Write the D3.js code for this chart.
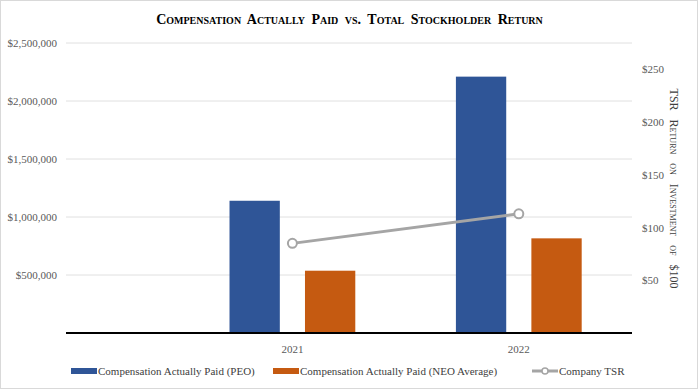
<!DOCTYPE html>
<html>
<head>
<meta charset="utf-8">
<script src="https://cdn.jsdelivr.net/npm/d3@7"></script>
<style>
  body { margin: 0; background: #fff; }
  svg text { font-family: "Liberation Serif", "Times New Roman", serif; fill: #404040; }
</style>
</head>
<body>
<div id="chart"></div>
<script>
var years = ["2021", "2022"];
var peoPaid = [1140000, 2210000];
var neoPaid = [537000, 816000];
var tsr = [85, 113];
var leftTicks = [500000, 1000000, 1500000, 2000000, 2500000];
var rightTicks = [50, 100, 150, 200, 250];
var seriesNames = ["Compensation Actually Paid (PEO)", "Compensation Actually Paid (NEO Average)", "Company TSR"];

var W = 699, H = 390;
var margin = {top: 43, right: 67, bottom: 57, left: 66};
var width = W - margin.left - margin.right,
    height = H - margin.top - margin.bottom;

var svg = d3.select("#chart").append("svg")
    .attr("width", W).attr("height", H);

// outer border
svg.append("rect")
    .attr("x", 0.5).attr("y", 0.5)
    .attr("width", W - 2).attr("height", H - 2)
    .attr("fill", "#fff").attr("stroke", "#d9d9d9");

svg.append("text")
    .attr("x", W / 2).attr("y", 24)
    .attr("text-anchor", "middle")
    .style("font-size", "14px").style("font-weight", "bold")
    .style("font-variant", "small-caps").style("fill", "#000")
    .style("word-spacing", "3px")
    .text("Compensation Actually Paid vs. Total Stockholder Return");

var g = svg.append("g")
    .attr("transform", "translate(" + margin.left + "," + margin.top + ")");

// the category bands sit in the right part of the plot area, like the original
var x = d3.scaleBand().domain(years).range([width * 0.2, width]);
var sub = d3.scaleBand().domain(["peo", "neo"])
    .range([0, x.bandwidth()]).paddingInner(1 / 3).paddingOuter(2 / 3);

var y = d3.scaleLinear().domain([0, 2500000]).range([height, 0]);
var y2 = d3.scaleLinear().domain([0, 275]).range([height, 0]);

// gridlines
g.selectAll(".grid").data(leftTicks).enter().append("line")
    .attr("x1", 0).attr("x2", width)
    .attr("y1", function(d) { return y(d); })
    .attr("y2", function(d) { return y(d); })
    .attr("stroke", "#e0e0e0").attr("stroke-width", 1);

// left axis
var yAxis = g.append("g")
    .call(d3.axisLeft(y).tickValues(leftTicks).tickSize(0).tickPadding(9)
        .tickFormat(function(d) { return "$" + d3.format(",")(d); }));
yAxis.select(".domain").remove();
yAxis.selectAll("text").style("font-size", "11px").style("fill", "#595959");

// right axis
var y2Axis = g.append("g")
    .attr("transform", "translate(" + width + ",0)")
    .call(d3.axisRight(y2).tickValues(rightTicks).tickSize(0).tickPadding(10)
        .tickFormat(function(d) { return "$" + d; }));
y2Axis.select(".domain").remove();
y2Axis.selectAll("text").style("font-size", "11px").style("fill", "#595959");

svg.append("text")
    .attr("transform", "translate(670," + (margin.top + y2(137)) + ") rotate(90)")
    .attr("text-anchor", "middle")
    .style("font-size", "12px").style("font-variant", "small-caps")
    .style("word-spacing", "6px")
    .text("TSR Return on Investment of $100");

// bars
g.selectAll(".peo").data(years).enter().append("rect")
    .attr("x", function(d) { return x(d) + sub("peo"); })
    .attr("y", function(d, i) { return y(peoPaid[i]); })
    .attr("width", sub.bandwidth())
    .attr("height", function(d, i) { return height - y(peoPaid[i]); })
    .attr("fill", "#2f5597");

g.selectAll(".neo").data(years).enter().append("rect")
    .attr("x", function(d) { return x(d) + sub("neo"); })
    .attr("y", function(d, i) { return y(neoPaid[i]); })
    .attr("width", sub.bandwidth())
    .attr("height", function(d, i) { return height - y(neoPaid[i]); })
    .attr("fill", "#c55a11");

// x axis
g.append("line")
    .attr("x1", 0).attr("x2", width)
    .attr("y1", height).attr("y2", height)
    .attr("stroke", "#000").attr("stroke-width", 2);

g.selectAll(".xlab").data(years).enter().append("text")
    .attr("x", function(d) { return x(d) + x.bandwidth() / 2; })
    .attr("y", height + 20)
    .attr("text-anchor", "middle")
    .style("font-size", "11px").style("fill", "#595959")
    .text(function(d) { return d; });

// TSR line
var line = d3.line()
    .x(function(d, i) { return x(years[i]) + x.bandwidth() / 2; })
    .y(function(d) { return y2(d); });
g.append("path").datum(tsr)
    .attr("d", line)
    .attr("fill", "none").attr("stroke", "#a5a5a5").attr("stroke-width", 3);
g.selectAll(".dot").data(tsr).enter().append("circle")
    .attr("cx", function(d, i) { return x(years[i]) + x.bandwidth() / 2; })
    .attr("cy", function(d) { return y2(d); })
    .attr("r", 4.5)
    .attr("fill", "#fff").attr("stroke", "#a5a5a5").attr("stroke-width", 2);

// legend
var legendX = [71, 273, 532];
var legend = svg.selectAll(".leg").data(seriesNames).enter().append("g")
    .attr("transform", function(d, i) { return "translate(" + legendX[i] + ",371)"; });
legend.each(function(d, i) {
    var el = d3.select(this);
    if (i < 2) {
        el.append("rect").attr("x", 0).attr("y", -3).attr("width", 26).attr("height", 6)
            .attr("fill", i === 0 ? "#2f5597" : "#c55a11");
    } else {
        el.append("line").attr("x1", 0).attr("x2", 26).attr("y1", 0).attr("y2", 0)
            .attr("stroke", "#a5a5a5").attr("stroke-width", 3);
        el.append("circle").attr("cx", 13).attr("cy", 0).attr("r", 3)
            .attr("fill", "#fff").attr("stroke", "#a5a5a5").attr("stroke-width", 1.5);
    }
    el.append("text").attr("x", 27).attr("y", 4)
        .style("font-size", "11px").style("fill", "#404040")
        .text(d);
});
</script>
</body>
</html>
